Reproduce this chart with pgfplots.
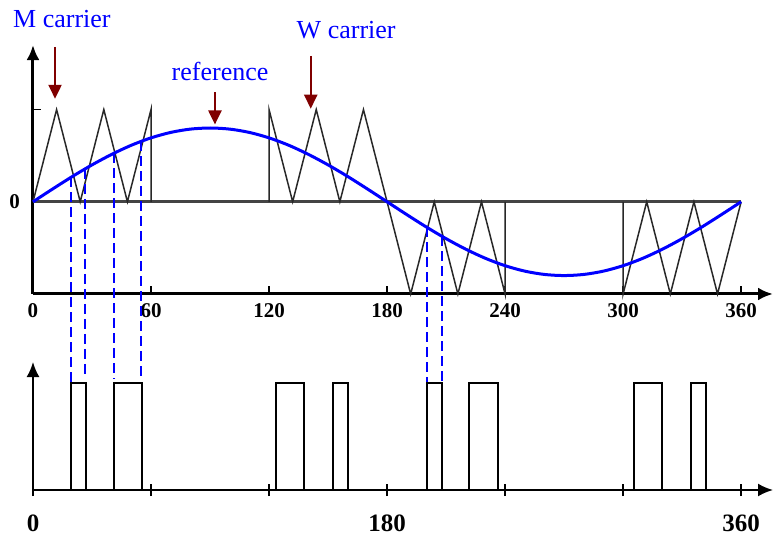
\documentclass[border=0pt]{standalone}
\usepackage{pgfplots}
\pgfplotsset{compat=1.18}
\usepackage{fontspec}
\setmainfont{Liberation Serif}
\usetikzlibrary{arrows.meta}
\definecolor{carrier}{RGB}{40,40,40}
\definecolor{darkred}{RGB}{128,0,0}
\definecolor{zeroline}{RGB}{68,68,68}
\definecolor{refblue}{RGB}{0,0,255}

\begin{document}
\begin{tikzpicture}
\path[use as bounding box] (0,0) rectangle (386.5pt,-270pt);
% ---------------- upper panel ----------------
\begin{axis}[
  at={(16.5pt,-147pt)}, anchor=south west, scale only axis,
  width=370pt, height=124.5pt,
  xmin=0, xmax=376.2, ymin=-1, ymax=1.7,
  axis lines=left, clip=false,
  /pgf/number format/assume math mode=true,
  axis line style={line width=1.5pt},
  x axis line style={-{Latex[length=7.5pt,width=6.5pt]}},
  y axis line style={-{Latex[length=7.5pt,width=6.5pt]}},
  xtick={0,60,120,180,240,300,360},
  ytick={0,1}, yticklabels={0,{}},
  tick align=inside, major tick length=4pt,
  tick style={line width=0.8pt, black},
  ticklabel style={font=\fontsize{10.5}{12}\selectfont\bfseries},
  xticklabel style={yshift=-1pt},
  yticklabel style={xshift=-3pt},
]
% zero line
\addplot[zeroline, line width=1.5pt] coordinates {(0,0) (360,0)};
% carrier
\addplot[carrier, line width=0.75pt] coordinates {
 (0,0) (12,1) (24,0) (36,1) (48,0) (60,1) (60,0)};
\addplot[carrier, line width=0.75pt] coordinates {
 (120,0) (120,1) (132,0) (144,1) (156,0) (168,1) (180,0) (192,-1) (204,0) (216,-1) (228,0) (240,-1) (240,0)};
\addplot[carrier, line width=0.75pt] coordinates {
 (300,0) (300,-1) (312,0) (324,-1) (336,0) (348,-1) (360,0)};
% reference
\addplot[refblue, line width=1.5pt, smooth] coordinates {
 (0,0) (10,0.139) (20,0.274) (30,0.400) (40,0.514) (50,0.613) (60,0.693) (70,0.752) (80,0.788) (90,0.800)
 (100,0.788) (110,0.752) (120,0.693) (130,0.613) (140,0.514) (150,0.400) (160,0.274) (170,0.139) (180,0)
 (190,-0.139) (200,-0.274) (210,-0.400) (220,-0.514) (230,-0.613) (240,-0.693) (250,-0.752) (260,-0.788) (270,-0.800)
 (280,-0.788) (290,-0.752) (300,-0.693) (310,-0.613) (320,-0.514) (330,-0.400) (340,-0.274) (350,-0.139) (360,0)};
% dashed projection lines
\addplot[refblue, line width=1pt, dash pattern=on 5pt off 2.5pt] coordinates {(19.3,0.264) (19.3,-1.95)};
\addplot[refblue, line width=1pt, dash pattern=on 5pt off 2.5pt] coordinates {(26.4,0.356) (26.4,-1.90)};
\addplot[refblue, line width=1pt, dash pattern=on 5pt off 2.5pt] coordinates {(41.2,0.527) (41.2,-1.92)};
\addplot[refblue, line width=1pt, dash pattern=on 5pt off 2.5pt] coordinates {(55.0,0.655) (55.0,-1.94)};
\addplot[refblue, line width=1pt, dash pattern=on 5pt off 2.5pt] coordinates {(200.2,-0.276) (200.2,-2.84)};
\addplot[refblue, line width=1pt, dash pattern=on 5pt off 2.5pt] coordinates {(208.0,-0.376) (208.0,-2.43)};
% annotations
\node[refblue, font=\fontsize{13}{15}\selectfont] at (axis cs:14.7,1.985) {M carrier};
\node[refblue, font=\fontsize{13}{15}\selectfont] at (axis cs:95.1,1.41) {reference};
\node[refblue, font=\fontsize{13}{15}\selectfont] at (axis cs:159.2,1.866) {W carrier};
\draw[darkred, line width=1.1pt, -{Triangle[length=7pt,width=6.5pt]}] (axis cs:11.2,1.68) -- (axis cs:11.2,1.117);
\draw[darkred, line width=1.1pt, -{Triangle[length=7pt,width=6.5pt]}] (axis cs:92.5,1.185) -- (axis cs:92.5,0.838);
\draw[darkred, line width=1.1pt, -{Triangle[length=7pt,width=6.5pt]}] (axis cs:141.2,1.583) -- (axis cs:141.2,1.009);
\end{axis}
% ---------------- lower panel ----------------
\begin{axis}[
  at={(16.5pt,-245pt)}, anchor=south west, scale only axis,
  width=370pt, height=64pt,
  xmin=0, xmax=376.2, ymin=0, ymax=1.196,
  axis lines=left, clip=false,
  /pgf/number format/assume math mode=true,
  axis line style={line width=1pt},
  x axis line style={-{Latex[length=7.5pt,width=6.5pt]}},
  y axis line style={-{Latex[length=7.5pt,width=6.5pt]}},
  xtick={0,60,120,180,240,300,360},
  xticklabels={0,{},{},180,{},{},360},
  ytick=\empty,
  tick align=center, major tick length=6pt,
  tick style={line width=0.8pt, black},
  ticklabel style={font=\fontsize{12.5}{14}\selectfont\bfseries},
  xticklabel style={yshift=-6pt},
]
\addplot[black, line width=0.9pt] coordinates {
 (0,0) (19.3,0) (19.3,1) (27.1,1) (27.1,0)
 (41.2,0) (41.2,1) (55.4,1) (55.4,0)
 (123.5,0) (123.5,1) (137.9,1) (137.9,0)
 (152.7,0) (152.7,1) (160.3,1) (160.3,0)
 (200.2,0) (200.2,1) (207.8,1) (207.8,0)
 (221.7,0) (221.7,1) (236.2,1) (236.2,0)
 (305.5,0) (305.5,1) (319.9,1) (319.9,0)
 (334.5,0) (334.5,1) (342.1,1) (342.1,0)};
\end{axis}
\end{tikzpicture}
\end{document}
